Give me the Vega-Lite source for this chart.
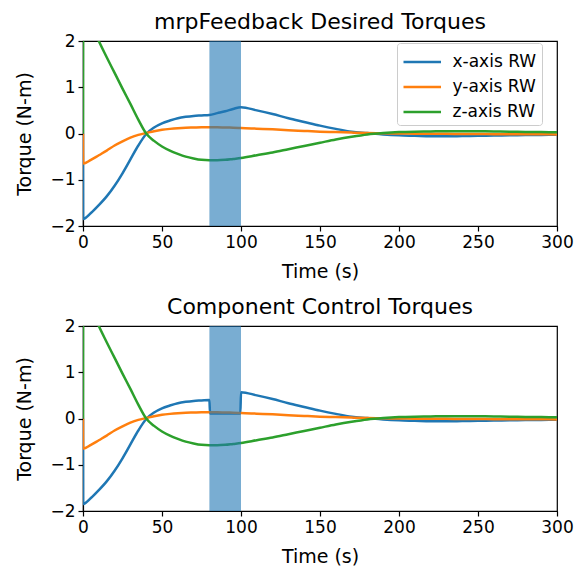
{
  "$schema": "https://vega.github.io/schema/vega-lite/v6.json",
  "background": "white",
  "padding": {"left": 15, "top": 10, "right": 10, "bottom": 4},
  "datasets": {
    "desired": [
      {"t":0,"series":"x-axis RW","value":0},{"t":0.1,"series":"x-axis RW","value":-1.85},{"t":5,"series":"x-axis RW","value":-1.72},{"t":10,"series":"x-axis RW","value":-1.55},{"t":15,"series":"x-axis RW","value":-1.36},{"t":20,"series":"x-axis RW","value":-1.13},{"t":25,"series":"x-axis RW","value":-0.86},{"t":30,"series":"x-axis RW","value":-0.56},{"t":35,"series":"x-axis RW","value":-0.26},{"t":40,"series":"x-axis RW","value":-0.01},{"t":45,"series":"x-axis RW","value":0.13},{"t":50,"series":"x-axis RW","value":0.22},{"t":55,"series":"x-axis RW","value":0.28},{"t":60,"series":"x-axis RW","value":0.33},{"t":65,"series":"x-axis RW","value":0.36},{"t":70,"series":"x-axis RW","value":0.38},{"t":75,"series":"x-axis RW","value":0.39},{"t":80,"series":"x-axis RW","value":0.40},{"t":85,"series":"x-axis RW","value":0.44},{"t":90,"series":"x-axis RW","value":0.48},{"t":95,"series":"x-axis RW","value":0.53},{"t":100,"series":"x-axis RW","value":0.57},{"t":110,"series":"x-axis RW","value":0.50},{"t":120,"series":"x-axis RW","value":0.42},{"t":130,"series":"x-axis RW","value":0.33},{"t":140,"series":"x-axis RW","value":0.25},{"t":150,"series":"x-axis RW","value":0.17},{"t":160,"series":"x-axis RW","value":0.10},{"t":170,"series":"x-axis RW","value":0.04},{"t":180,"series":"x-axis RW","value":0.01},{"t":190,"series":"x-axis RW","value":-0.02},{"t":200,"series":"x-axis RW","value":-0.04},{"t":210,"series":"x-axis RW","value":-0.05},{"t":220,"series":"x-axis RW","value":-0.06},{"t":230,"series":"x-axis RW","value":-0.06},{"t":240,"series":"x-axis RW","value":-0.055},{"t":250,"series":"x-axis RW","value":-0.05},{"t":260,"series":"x-axis RW","value":-0.045},{"t":270,"series":"x-axis RW","value":-0.04},{"t":280,"series":"x-axis RW","value":-0.035},{"t":290,"series":"x-axis RW","value":-0.03},{"t":300,"series":"x-axis RW","value":-0.025},
      {"t":0,"series":"y-axis RW","value":0},{"t":0.1,"series":"y-axis RW","value":-0.65},{"t":5,"series":"y-axis RW","value":-0.57},{"t":10,"series":"y-axis RW","value":-0.47},{"t":15,"series":"y-axis RW","value":-0.37},{"t":20,"series":"y-axis RW","value":-0.26},{"t":25,"series":"y-axis RW","value":-0.17},{"t":30,"series":"y-axis RW","value":-0.09},{"t":35,"series":"y-axis RW","value":-0.03},{"t":40,"series":"y-axis RW","value":0.01},{"t":45,"series":"y-axis RW","value":0.05},{"t":50,"series":"y-axis RW","value":0.08},{"t":55,"series":"y-axis RW","value":0.10},{"t":60,"series":"y-axis RW","value":0.115},{"t":65,"series":"y-axis RW","value":0.125},{"t":70,"series":"y-axis RW","value":0.13},{"t":75,"series":"y-axis RW","value":0.135},{"t":80,"series":"y-axis RW","value":0.135},{"t":85,"series":"y-axis RW","value":0.133},{"t":90,"series":"y-axis RW","value":0.13},{"t":95,"series":"y-axis RW","value":0.125},{"t":100,"series":"y-axis RW","value":0.12},{"t":110,"series":"y-axis RW","value":0.105},{"t":120,"series":"y-axis RW","value":0.09},{"t":130,"series":"y-axis RW","value":0.07},{"t":140,"series":"y-axis RW","value":0.055},{"t":150,"series":"y-axis RW","value":0.04},{"t":160,"series":"y-axis RW","value":0.03},{"t":170,"series":"y-axis RW","value":0.02},{"t":180,"series":"y-axis RW","value":0.01},{"t":190,"series":"y-axis RW","value":0.005},{"t":200,"series":"y-axis RW","value":0.0},{"t":210,"series":"y-axis RW","value":-0.003},{"t":220,"series":"y-axis RW","value":-0.006},{"t":230,"series":"y-axis RW","value":-0.008},{"t":240,"series":"y-axis RW","value":-0.01},{"t":250,"series":"y-axis RW","value":-0.012},{"t":260,"series":"y-axis RW","value":-0.014},{"t":270,"series":"y-axis RW","value":-0.015},{"t":280,"series":"y-axis RW","value":-0.017},{"t":290,"series":"y-axis RW","value":-0.018},{"t":300,"series":"y-axis RW","value":-0.02},
      {"t":0,"series":"z-axis RW","value":0},{"t":0.1,"series":"z-axis RW","value":2.85},{"t":5,"series":"z-axis RW","value":2.4},{"t":10,"series":"z-axis RW","value":2.0},{"t":15,"series":"z-axis RW","value":1.65},{"t":20,"series":"z-axis RW","value":1.31},{"t":25,"series":"z-axis RW","value":0.97},{"t":30,"series":"z-axis RW","value":0.64},{"t":35,"series":"z-axis RW","value":0.3},{"t":40,"series":"z-axis RW","value":0.0},{"t":45,"series":"z-axis RW","value":-0.16},{"t":50,"series":"z-axis RW","value":-0.28},{"t":55,"series":"z-axis RW","value":-0.37},{"t":60,"series":"z-axis RW","value":-0.44},{"t":65,"series":"z-axis RW","value":-0.5},{"t":70,"series":"z-axis RW","value":-0.54},{"t":75,"series":"z-axis RW","value":-0.57},{"t":80,"series":"z-axis RW","value":-0.58},{"t":85,"series":"z-axis RW","value":-0.58},{"t":90,"series":"z-axis RW","value":-0.57},{"t":95,"series":"z-axis RW","value":-0.55},{"t":100,"series":"z-axis RW","value":-0.53},{"t":110,"series":"z-axis RW","value":-0.47},{"t":120,"series":"z-axis RW","value":-0.41},{"t":130,"series":"z-axis RW","value":-0.34},{"t":140,"series":"z-axis RW","value":-0.27},{"t":150,"series":"z-axis RW","value":-0.2},{"t":160,"series":"z-axis RW","value":-0.13},{"t":170,"series":"z-axis RW","value":-0.07},{"t":180,"series":"z-axis RW","value":-0.02},{"t":190,"series":"z-axis RW","value":0.01},{"t":200,"series":"z-axis RW","value":0.03},{"t":210,"series":"z-axis RW","value":0.04},{"t":220,"series":"z-axis RW","value":0.045},{"t":230,"series":"z-axis RW","value":0.05},{"t":240,"series":"z-axis RW","value":0.05},{"t":250,"series":"z-axis RW","value":0.048},{"t":260,"series":"z-axis RW","value":0.045},{"t":270,"series":"z-axis RW","value":0.04},{"t":280,"series":"z-axis RW","value":0.035},{"t":290,"series":"z-axis RW","value":0.03},{"t":300,"series":"z-axis RW","value":0.025}
    ],
    "control": [
      {"t":0,"series":"x-axis RW","value":0},{"t":0.1,"series":"x-axis RW","value":-1.85},{"t":5,"series":"x-axis RW","value":-1.72},{"t":10,"series":"x-axis RW","value":-1.55},{"t":15,"series":"x-axis RW","value":-1.36},{"t":20,"series":"x-axis RW","value":-1.13},{"t":25,"series":"x-axis RW","value":-0.86},{"t":30,"series":"x-axis RW","value":-0.56},{"t":35,"series":"x-axis RW","value":-0.26},{"t":40,"series":"x-axis RW","value":-0.01},{"t":45,"series":"x-axis RW","value":0.13},{"t":50,"series":"x-axis RW","value":0.22},{"t":55,"series":"x-axis RW","value":0.28},{"t":60,"series":"x-axis RW","value":0.33},{"t":65,"series":"x-axis RW","value":0.36},{"t":70,"series":"x-axis RW","value":0.38},{"t":75,"series":"x-axis RW","value":0.39},{"t":80,"series":"x-axis RW","value":0.40},{"t":80.4,"series":"x-axis RW","value":0.11},{"t":90,"series":"x-axis RW","value":0.11},{"t":99.6,"series":"x-axis RW","value":0.11},{"t":100,"series":"x-axis RW","value":0.57},{"t":110,"series":"x-axis RW","value":0.50},{"t":120,"series":"x-axis RW","value":0.42},{"t":130,"series":"x-axis RW","value":0.33},{"t":140,"series":"x-axis RW","value":0.25},{"t":150,"series":"x-axis RW","value":0.17},{"t":160,"series":"x-axis RW","value":0.10},{"t":170,"series":"x-axis RW","value":0.04},{"t":180,"series":"x-axis RW","value":0.01},{"t":190,"series":"x-axis RW","value":-0.02},{"t":200,"series":"x-axis RW","value":-0.04},{"t":210,"series":"x-axis RW","value":-0.05},{"t":220,"series":"x-axis RW","value":-0.06},{"t":230,"series":"x-axis RW","value":-0.06},{"t":240,"series":"x-axis RW","value":-0.055},{"t":250,"series":"x-axis RW","value":-0.05},{"t":260,"series":"x-axis RW","value":-0.045},{"t":270,"series":"x-axis RW","value":-0.04},{"t":280,"series":"x-axis RW","value":-0.035},{"t":290,"series":"x-axis RW","value":-0.03},{"t":300,"series":"x-axis RW","value":-0.025},
      {"t":0,"series":"y-axis RW","value":0},{"t":0.1,"series":"y-axis RW","value":-0.65},{"t":5,"series":"y-axis RW","value":-0.57},{"t":10,"series":"y-axis RW","value":-0.47},{"t":15,"series":"y-axis RW","value":-0.37},{"t":20,"series":"y-axis RW","value":-0.26},{"t":25,"series":"y-axis RW","value":-0.17},{"t":30,"series":"y-axis RW","value":-0.09},{"t":35,"series":"y-axis RW","value":-0.03},{"t":40,"series":"y-axis RW","value":0.01},{"t":45,"series":"y-axis RW","value":0.05},{"t":50,"series":"y-axis RW","value":0.08},{"t":55,"series":"y-axis RW","value":0.10},{"t":60,"series":"y-axis RW","value":0.115},{"t":65,"series":"y-axis RW","value":0.125},{"t":70,"series":"y-axis RW","value":0.13},{"t":75,"series":"y-axis RW","value":0.135},{"t":80,"series":"y-axis RW","value":0.135},{"t":85,"series":"y-axis RW","value":0.133},{"t":90,"series":"y-axis RW","value":0.13},{"t":95,"series":"y-axis RW","value":0.125},{"t":100,"series":"y-axis RW","value":0.12},{"t":110,"series":"y-axis RW","value":0.105},{"t":120,"series":"y-axis RW","value":0.09},{"t":130,"series":"y-axis RW","value":0.07},{"t":140,"series":"y-axis RW","value":0.055},{"t":150,"series":"y-axis RW","value":0.04},{"t":160,"series":"y-axis RW","value":0.03},{"t":170,"series":"y-axis RW","value":0.02},{"t":180,"series":"y-axis RW","value":0.01},{"t":190,"series":"y-axis RW","value":0.005},{"t":200,"series":"y-axis RW","value":0.0},{"t":210,"series":"y-axis RW","value":-0.003},{"t":220,"series":"y-axis RW","value":-0.006},{"t":230,"series":"y-axis RW","value":-0.008},{"t":240,"series":"y-axis RW","value":-0.01},{"t":250,"series":"y-axis RW","value":-0.012},{"t":260,"series":"y-axis RW","value":-0.014},{"t":270,"series":"y-axis RW","value":-0.015},{"t":280,"series":"y-axis RW","value":-0.017},{"t":290,"series":"y-axis RW","value":-0.018},{"t":300,"series":"y-axis RW","value":-0.02},
      {"t":0,"series":"z-axis RW","value":0},{"t":0.1,"series":"z-axis RW","value":2.85},{"t":5,"series":"z-axis RW","value":2.4},{"t":10,"series":"z-axis RW","value":2.0},{"t":15,"series":"z-axis RW","value":1.65},{"t":20,"series":"z-axis RW","value":1.31},{"t":25,"series":"z-axis RW","value":0.97},{"t":30,"series":"z-axis RW","value":0.64},{"t":35,"series":"z-axis RW","value":0.3},{"t":40,"series":"z-axis RW","value":0.0},{"t":45,"series":"z-axis RW","value":-0.16},{"t":50,"series":"z-axis RW","value":-0.28},{"t":55,"series":"z-axis RW","value":-0.37},{"t":60,"series":"z-axis RW","value":-0.44},{"t":65,"series":"z-axis RW","value":-0.5},{"t":70,"series":"z-axis RW","value":-0.54},{"t":75,"series":"z-axis RW","value":-0.57},{"t":80,"series":"z-axis RW","value":-0.58},{"t":85,"series":"z-axis RW","value":-0.58},{"t":90,"series":"z-axis RW","value":-0.57},{"t":95,"series":"z-axis RW","value":-0.55},{"t":100,"series":"z-axis RW","value":-0.53},{"t":110,"series":"z-axis RW","value":-0.47},{"t":120,"series":"z-axis RW","value":-0.41},{"t":130,"series":"z-axis RW","value":-0.34},{"t":140,"series":"z-axis RW","value":-0.27},{"t":150,"series":"z-axis RW","value":-0.2},{"t":160,"series":"z-axis RW","value":-0.13},{"t":170,"series":"z-axis RW","value":-0.07},{"t":180,"series":"z-axis RW","value":-0.02},{"t":190,"series":"z-axis RW","value":0.01},{"t":200,"series":"z-axis RW","value":0.03},{"t":210,"series":"z-axis RW","value":0.04},{"t":220,"series":"z-axis RW","value":0.045},{"t":230,"series":"z-axis RW","value":0.05},{"t":240,"series":"z-axis RW","value":0.05},{"t":250,"series":"z-axis RW","value":0.048},{"t":260,"series":"z-axis RW","value":0.045},{"t":270,"series":"z-axis RW","value":0.04},{"t":280,"series":"z-axis RW","value":0.035},{"t":290,"series":"z-axis RW","value":0.03},{"t":300,"series":"z-axis RW","value":0.025}
    ],
    "band": [{"start": 80, "end": 100}]
  },
  "config": {
    "font": "DejaVu Sans",
    "view": {"stroke": "black", "strokeWidth": 1.2},
    "axis": {"grid": false, "domainColor": "black", "domainWidth": 1.2, "tickColor": "black", "tickWidth": 1.2, "tickSize": 5, "labelColor": "black", "titleColor": "black", "labelFontSize": 17, "titleFontSize": 19, "titleFontWeight": "normal", "labelPadding": 3, "labelFlush": false},
    "axisX": {"titlePadding": 12},
    "axisY": {"titlePadding": 15},
    "title": {"fontSize": 22, "fontWeight": "normal", "color": "black", "offset": -2},
    "legend": {"labelFontSize": 17, "labelColor": "black"},
    "concat": {"spacing": 13}
  },
  "resolve": {"legend": {"color": "independent"}},
  "vconcat": [
    {
      "width": 474, "height": 185,
      "title": "mrpFeedback Desired Torques",
      "layer": [
        {
          "data": {"name": "desired"},
          "mark": {"type": "line", "strokeWidth": 2.5, "clip": true, "interpolate": "monotone"},
          "encoding": {
            "x": {"field": "t", "type": "quantitative", "scale": {"domain": [0, 300], "nice": false}, "axis": {"title": "Time (s)", "values": [0, 50, 100, 150, 200, 250, 300]}},
            "y": {"field": "value", "type": "quantitative", "scale": {"domain": [-2, 2], "nice": false}, "axis": {"title": "Torque (N-m)", "values": [-2, -1, 0, 1, 2]}},
            "color": {"field": "series", "type": "nominal", "scale": {"domain": ["x-axis RW", "y-axis RW", "z-axis RW"], "range": ["#1f77b4", "#ff7f0e", "#2ca02c"]},
              "legend": {"title": null, "orient": "none", "legendX": 314, "legendY": 2, "symbolType": "M-1.0,0H2.0", "symbolSize": 625, "symbolStrokeWidth": 2.5, "labelOffset": 22.5, "rowPadding": 3, "padding": 5, "strokeColor": "#cccccc", "fillColor": "white", "cornerRadius": 3}}
          }
        },
        {
          "data": {"name": "band"},
          "mark": {"type": "rect", "color": "#1f77b4", "opacity": 0.6},
          "encoding": {"x": {"field": "start", "type": "quantitative"}, "x2": {"field": "end"}}
        }
      ]
    },
    {
      "width": 474, "height": 185,
      "title": "Component Control Torques",
      "layer": [
        {
          "data": {"name": "control"},
          "mark": {"type": "line", "strokeWidth": 2.5, "clip": true, "interpolate": "monotone"},
          "encoding": {
            "x": {"field": "t", "type": "quantitative", "scale": {"domain": [0, 300], "nice": false}, "axis": {"title": "Time (s)", "values": [0, 50, 100, 150, 200, 250, 300]}},
            "y": {"field": "value", "type": "quantitative", "scale": {"domain": [-2, 2], "nice": false}, "axis": {"title": "Torque (N-m)", "values": [-2, -1, 0, 1, 2]}},
            "color": {"field": "series", "type": "nominal", "scale": {"domain": ["x-axis RW", "y-axis RW", "z-axis RW"], "range": ["#1f77b4", "#ff7f0e", "#2ca02c"]}, "legend": null}
          }
        },
        {
          "data": {"name": "band"},
          "mark": {"type": "rect", "color": "#1f77b4", "opacity": 0.6},
          "encoding": {"x": {"field": "start", "type": "quantitative"}, "x2": {"field": "end"}}
        }
      ]
    }
  ]
}
